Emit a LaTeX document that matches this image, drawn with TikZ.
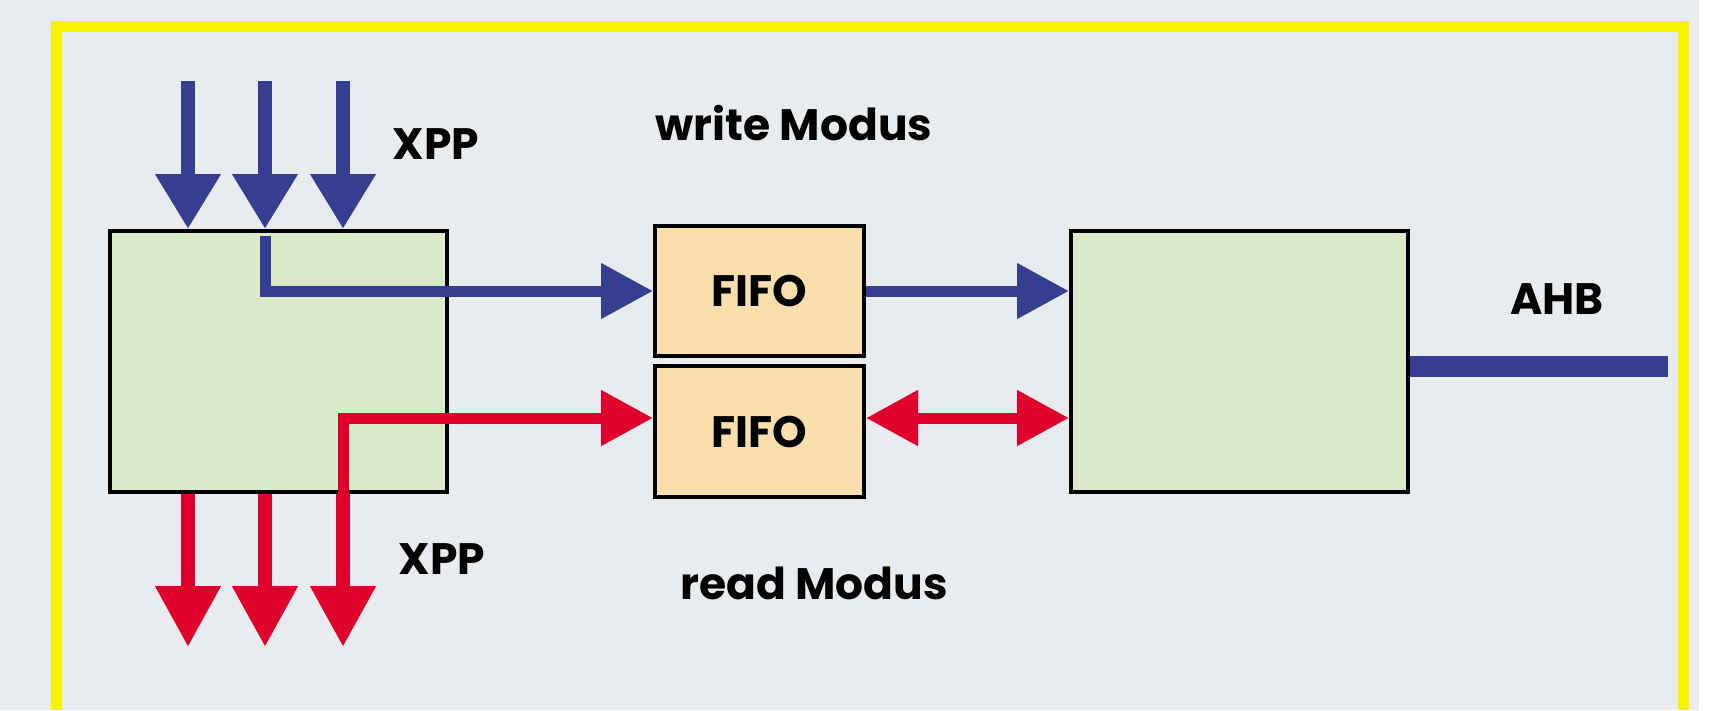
\documentclass[tikz,border=0pt]{standalone}
\usepackage{fontspec}
\usepackage{tikz}
\usetikzlibrary{arrows.meta, positioning}
\usepackage{xcolor}
\newfontfamily\gothic{Poppins}
\definecolor{busblue}{RGB}{54,62,146}
\definecolor{busred}{RGB}{224,0,44}
\definecolor{blockgreen}{RGB}{218,234,200}
\definecolor{fifoorange}{RGB}{250,222,172}
\definecolor{panelgray}{RGB}{232,236,239}
\definecolor{frameyellow}{RGB}{248,244,0}

\begin{document}
\begin{tikzpicture}[x=1pt, y=-1pt,
    block/.style={draw=black, line width=4pt, fill=blockgreen,
      minimum width=337pt, minimum height=261pt},
    fifo/.style={draw=black, line width=4pt, fill=fifoorange,
      minimum width=209pt, minimum height=130pt,
      font=\gothic\bfseries\fontsize{44}{50}\selectfont},
    lbl/.style={anchor=base, font=\gothic\bfseries\fontsize{44}{50}\selectfont},
    wire/.style={line width=11pt},
    tip/.style={-{Triangle[length=52pt, width=53pt]}},
    dtip/.style={{Triangle[length=52pt, width=53pt]}-{Triangle[length=52pt, width=53pt]}},
    xppin/.style={line width=14pt, busblue, -{Triangle[length=55pt, width=62pt]}},
    xppout/.style={line width=14pt, busred, -{Triangle[length=61pt, width=62pt]}}]

    % Panel and frame
    \useasboundingbox (0,0) rectangle (1721,710);
    \fill[white] (0,0) rectangle (1721,710);
    \fill[panelgray] (0,0) rectangle (1699,710);
    \draw[frameyellow, line width=11pt] (56,710) -- (56,26.5) -- (1683,26.5) -- (1683,710);

    % Blocks
    \node[block] (xppblk) at (278.5,361.5) {};
    \node[block] (ahbblk) at (1239.5,361.5) {};
    \node[fifo] (fifow) at (759.5,291) {FIFO};
    \node[fifo, minimum height=131pt] (fifor) at (759.5,431.5) {FIFO};

    % Labels
    \node[lbl] (xppw) at (436,159) {XPP};
    \node[lbl] (xppr) at (442,574) {XPP};
    \node[lbl] (wmode) at (794,140) {write Modus};
    \node[lbl] (rmode) at (814,599) {read Modus};
    \node[lbl] (ahblbl) at (1557,314) {AHB};

    % XPP ports
    \foreach \i/\x in {1/188, 2/265, 3/343} {
      \coordinate (in\i) at (\x,81);
      \coordinate (out\i) at (\x,647);
      \draw[xppin] (in\i) -- (in\i |- xppblk.north);
      \draw[xppout] (xppblk.south -| out\i) -- (out\i);
    }

    % write path
    \coordinate (wr) at (265,236);
    \draw[wire, busblue, tip] (wr) -- (wr |- fifow.west) -- (fifow.west);
    \draw[wire, busblue, tip] (fifow.east) -- (fifow.east -| ahbblk.west);

    % read path
    \coordinate (rd) at (343,418);
    \draw[wire, busred, tip] (xppblk.south -| rd) -- (rd) -- (rd -| fifor.west);
    \draw[wire, busred, dtip] (fifor.east |- rd) -- (rd -| ahbblk.west);

    % AHB bus
    \coordinate (ahb) at (1668,366);
    \draw[line width=21pt, busblue] (ahbblk.east |- ahb) -- (ahb);
  \end{tikzpicture}
\end{document}
